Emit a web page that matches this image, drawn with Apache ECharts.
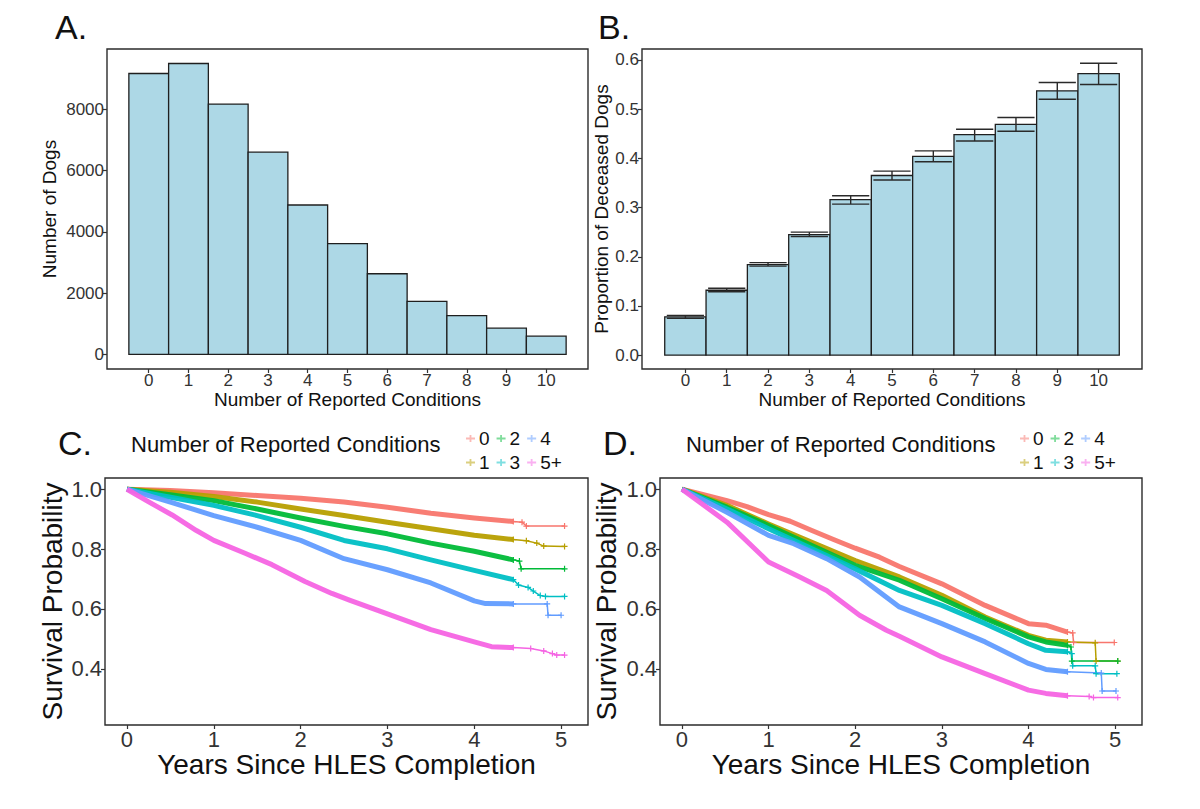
<!DOCTYPE html>
<html>
<head>
<meta charset="utf-8">
<script src="https://cdn.jsdelivr.net/npm/echarts@6/dist/echarts.min.js"></script>
<style>
  html, body { margin: 0; padding: 0; background: #fff; }
  #chart { width: 1200px; height: 809px; }
</style>
</head>
<body>
<div id="chart"></div>
<script>
// A + B: counts and proportion deceased by number of reported conditions
const conditions = [0, 1, 2, 3, 4, 5, 6, 7, 8, 9, 10];
const dogCounts = [9171, 9496, 8173, 6602, 4878, 3620, 2634, 1734, 1268, 856, 596];
const deceasedProp = [0.078, 0.132, 0.184, 0.245, 0.316, 0.365, 0.404, 0.448, 0.469, 0.537, 0.572];
const deceasedLow = [0.075, 0.129, 0.181, 0.241, 0.307, 0.356, 0.393, 0.435, 0.455, 0.520, 0.550];
const deceasedHigh = [0.081, 0.136, 0.188, 0.250, 0.324, 0.374, 0.415, 0.459, 0.483, 0.554, 0.593];

const countTicks = [0, 2000, 4000, 6000, 8000];
const propTicks = [0, 0.1, 0.2, 0.3, 0.4, 0.5, 0.6];
const yearTicks = [0, 1, 2, 3, 4, 5];
const survTicks = [0.4, 0.6, 0.8, 1.0];

const groupNames = ['0', '1', '2', '3', '4', '5+'];
const groupColors = ['#F8766D', '#B79F00', '#00BA38', '#00BFC4', '#619CFF', '#F564E3'];

// C: survival curves [years, probability]
const survC0 = [[0, 1], [0.5, 0.996], [1, 0.988], [1.5, 0.979], [2, 0.97], [2.5, 0.957], [3, 0.94], [3.5, 0.92], [4, 0.904], [4.45, 0.892], [4.55, 0.89], [4.6, 0.877], [5.04, 0.877]];
const survC1 = [[0, 1], [0.5, 0.99], [1, 0.976], [1.5, 0.957], [2, 0.934], [2.5, 0.912], [3, 0.89], [3.5, 0.868], [4, 0.846], [4.45, 0.832], [4.6, 0.828], [4.72, 0.82], [4.8, 0.81], [5.04, 0.809]];
const survC2 = [[0, 1], [0.5, 0.982], [1, 0.962], [1.5, 0.934], [2, 0.904], [2.5, 0.876], [3, 0.851], [3.5, 0.82], [4, 0.793], [4.45, 0.764], [4.52, 0.76], [4.54, 0.734], [5.04, 0.734]];
const survC3 = [[0, 1], [0.5, 0.973], [1, 0.946], [1.5, 0.912], [2, 0.873], [2.5, 0.829], [3, 0.801], [3.5, 0.764], [4, 0.729], [4.45, 0.698], [4.51, 0.68], [4.62, 0.672], [4.68, 0.66], [4.76, 0.645], [4.82, 0.642], [5.04, 0.642]];
const survC4 = [[0, 1], [0.5, 0.957], [1, 0.912], [1.5, 0.873], [2, 0.829], [2.5, 0.768], [3, 0.731], [3.5, 0.687], [4, 0.627], [4.13, 0.618], [4.45, 0.617], [4.84, 0.617], [4.85, 0.579], [5.0, 0.579]];
const survC5 = [[0, 1], [0.25, 0.958], [0.52, 0.914], [0.8, 0.862], [1.0, 0.829], [1.36, 0.786], [1.67, 0.748], [2.05, 0.692], [2.36, 0.652], [2.57, 0.629], [3, 0.584], [3.5, 0.531], [4, 0.49], [4.2, 0.474], [4.45, 0.471], [4.65, 0.468], [4.8, 0.46], [4.9, 0.451], [4.95, 0.446], [5.04, 0.446]];

// D: survival curves [years, probability]
const survD0 = [[0, 1], [0.25, 0.982], [0.52, 0.962], [0.75, 0.942], [1, 0.915], [1.25, 0.893], [1.5, 0.862], [1.75, 0.832], [2, 0.803], [2.28, 0.773], [2.51, 0.742], [3, 0.684], [3.5, 0.612], [4, 0.551], [4.2, 0.546], [4.45, 0.523], [4.51, 0.52], [4.52, 0.488], [4.99, 0.488]];
const survD1 = [[0, 1], [0.52, 0.946], [1, 0.884], [1.5, 0.823], [2, 0.762], [2.51, 0.707], [3, 0.646], [3.5, 0.573], [4, 0.512], [4.2, 0.496], [4.45, 0.49], [4.77, 0.487], [4.78, 0.426], [5.03, 0.426]];
const survD2 = [[0, 1], [0.52, 0.94], [1, 0.879], [1.5, 0.812], [2, 0.746], [2.51, 0.696], [3, 0.634], [3.5, 0.568], [4, 0.507], [4.2, 0.49], [4.45, 0.479], [4.49, 0.473], [4.5, 0.426], [5.03, 0.426]];
const survD3 = [[0, 1], [0.52, 0.934], [1, 0.868], [1.5, 0.801], [2, 0.734], [2.51, 0.662], [3, 0.612], [3.5, 0.551], [4, 0.484], [4.2, 0.462], [4.45, 0.457], [4.5, 0.451], [4.51, 0.41], [4.77, 0.41], [4.78, 0.384], [5.02, 0.384]];
const survD4 = [[0, 1], [0.52, 0.923], [1, 0.846], [1.29, 0.818], [1.67, 0.768], [2.05, 0.707], [2.51, 0.607], [3, 0.551], [3.5, 0.49], [4, 0.418], [4.2, 0.398], [4.45, 0.39], [4.84, 0.386], [4.85, 0.326], [5.01, 0.326]];
const survD5 = [[0, 1], [0.52, 0.89], [1, 0.757], [1.36, 0.707], [1.67, 0.662], [2.05, 0.579], [2.36, 0.529], [2.51, 0.509], [3, 0.44], [3.5, 0.384], [4, 0.329], [4.2, 0.318], [4.45, 0.31], [4.7, 0.308], [4.75, 0.304], [5.03, 0.304]];

const survC = [survC0, survC1, survC2, survC3, survC4, survC5];
const survD = [survD0, survD1, survD2, survD3, survD4, survD5];

const FONT = '"Liberation Sans", Arial, Helvetica, sans-serif';
const TAIL_FROM = 4.45; // thin line with censor marks after this
const PLUS = 'path://M4,0H6V4H10V6H6V10H4V6H0V4H4Z';
const KEY_ICON = 'path://M0,4H10V6H0Z M4,1H6V9H4Z';

// axis helper
function axis(gridIndex, min, max, ticks, labelSize, name, nameSize, nameGap, fmt) {
    return {
        type: 'value',
        gridIndex: gridIndex,
        min: min,
        max: max,
        name: name,
        nameLocation: 'middle',
        nameGap: nameGap,
        nameTextStyle: { fontSize: nameSize, color: '#111', fontFamily: FONT },
        axisLine: { show: false, onZero: false },
        splitLine: { show: false },
        axisTick: { show: true, length: 4, customValues: ticks, lineStyle: { color: '#333', width: 1.2 } },
        axisLabel: {
            customValues: ticks, fontSize: labelSize, color: '#333', margin: 3, fontFamily: FONT,
            formatter: fmt || (v => String(v))
        }
    };
}

function histBars(gridIndex, values) {
    return {
        type: 'custom',
        xAxisIndex: gridIndex,
        yAxisIndex: gridIndex,
        data: conditions.map((c, i) => [c, values[i]]),
        renderItem: function (params, api) {
            const x = api.value(0);
            const p0 = api.coord([x - 0.5, api.value(1)]);
            const p1 = api.coord([x + 0.5, 0]);
            return {
                type: 'rect',
                shape: { x: p0[0], y: p0[1], width: p1[0] - p0[0], height: p1[1] - p0[1] },
                style: { fill: '#ADD8E6', stroke: '#1f1f1f', lineWidth: 1.3 }
            };
        }
    };
}

function kmSeries(points, idx, gridIndex) {
    const cut = points.findIndex(p => p[0] > TAIL_FROM);
    const main = points.slice(0, cut);
    const tail = points.slice(cut - 1);
    const color = groupColors[idx];
    return [
        {
            type: 'line', name: groupNames[idx], xAxisIndex: gridIndex, yAxisIndex: gridIndex,
            data: main, showSymbol: false, silent: true,
            itemStyle: { color: color },
            lineStyle: { width: 5, color: color, opacity: 0.95, join: 'round' }
        },
        {
            type: 'line', name: groupNames[idx], xAxisIndex: gridIndex, yAxisIndex: gridIndex,
            data: tail, symbol: PLUS, symbolSize: 6, showSymbol: true, silent: true,
            itemStyle: { color: color },
            lineStyle: { width: 1.5, color: color }
        }
    ];
}

function legendRow(left, top, names) {
    return {
        left: left, top: top, orient: 'horizontal',
        data: names, icon: KEY_ICON, itemWidth: 9, itemHeight: 9, itemGap: 7,
        selectedMode: false,
        itemStyle: { opacity: 0.5 },
        textStyle: { fontSize: 19, color: '#111', fontFamily: FONT, padding: [0, 0, 0, -1] }
    };
}

const labelStyle = { fontSize: 34, fontWeight: 'normal', color: '#111', fontFamily: FONT };
const legTitleStyle = { fontSize: 22, fontWeight: 'normal', color: '#111', fontFamily: FONT };

const series = [
    histBars(0, dogCounts),
    histBars(1, deceasedProp),
    {
        type: 'custom',
        xAxisIndex: 1,
        yAxisIndex: 1,
        data: conditions.map((c, i) => [c, deceasedLow[i], deceasedHigh[i]]),
        renderItem: function (params, api) {
            const x = api.value(0);
            const half = 0.45;
            const st = { stroke: '#2a2a2a', lineWidth: 1.4 };
            const a = api.coord([x - half, api.value(2)]);
            const b = api.coord([x + half, api.value(2)]);
            const c = api.coord([x - half, api.value(1)]);
            const d = api.coord([x + half, api.value(1)]);
            const m1 = api.coord([x, api.value(2)]);
            const m2 = api.coord([x, api.value(1)]);
            return {
                type: 'group',
                children: [
                    { type: 'line', shape: { x1: a[0], y1: a[1], x2: b[0], y2: b[1] }, style: st },
                    { type: 'line', shape: { x1: c[0], y1: c[1], x2: d[0], y2: d[1] }, style: st },
                    { type: 'line', shape: { x1: m1[0], y1: m1[1], x2: m2[0], y2: m2[1] }, style: st }
                ]
            };
        }
    }
];
survC.forEach((pts, i) => series.push(...kmSeries(pts, i, 2)));
survD.forEach((pts, i) => series.push(...kmSeries(pts, i, 3)));

const option = {
    animation: false,
    backgroundColor: '#fff',
    title: [
        { text: 'A.', left: 55, top: 10, padding: 0, textStyle: labelStyle },
        { text: 'B.', left: 598, top: 10, padding: 0, textStyle: labelStyle },
        { text: 'C.', left: 58, top: 426, padding: 0, textStyle: labelStyle },
        { text: 'D.', left: 603, top: 426, padding: 0, textStyle: labelStyle },
        { text: 'Number of Reported Conditions', left: 131, top: 433, padding: 0, textStyle: legTitleStyle },
        { text: 'Number of Reported Conditions', left: 686, top: 433, padding: 0, textStyle: legTitleStyle }
    ],
    legend: [
        legendRow(461, 424, ['0', '2', '4']),
        legendRow(461, 448, ['1', '3', '5+']),
        legendRow(1015, 424, ['0', '2', '4']),
        legendRow(1015, 448, ['1', '3', '5+'])
    ],
    grid: [
        { left: 107, top: 49, width: 481, height: 320, show: true, borderColor: '#2b2b2b', borderWidth: 1.4 },
        { left: 642, top: 49, width: 500, height: 320, show: true, borderColor: '#2b2b2b', borderWidth: 1.4 },
        { left: 105, top: 478, width: 483, height: 247, show: true, borderColor: '#2b2b2b', borderWidth: 1.4 },
        { left: 660, top: 478, width: 482, height: 247, show: true, borderColor: '#2b2b2b', borderWidth: 1.4 }
    ],
    xAxis: [
        axis(0, -1.05, 11.05, conditions, 17, 'Number of Reported Conditions', 19, 21),
        axis(1, -1.05, 11.05, conditions, 17, 'Number of Reported Conditions', 19, 21),
        axis(2, -0.253, 5.31, yearTicks, 22, 'Years Since HLES Completion', 28, 24),
        axis(3, -0.253, 5.31, yearTicks, 22, 'Years Since HLES Completion', 28, 24)
    ],
    yAxis: [
        axis(0, -475, 9970, countTicks, 17, 'Number of Dogs', 19, 48),
        axis(1, -0.028, 0.622, propTicks, 17, 'Proportion of Deceased Dogs', 19, 29, v => v.toFixed(1)),
        axis(2, 0.2125, 1.0375, survTicks, 22, 'Survival Probability', 28, 39, v => v.toFixed(1)),
        axis(3, 0.2125, 1.0375, survTicks, 22, 'Survival Probability', 28, 40, v => v.toFixed(1))
    ],
    series: series
};

const chart = echarts.init(document.getElementById('chart'), null, { renderer: 'svg' });
chart.setOption(option);
</script>
</body>
</html>
